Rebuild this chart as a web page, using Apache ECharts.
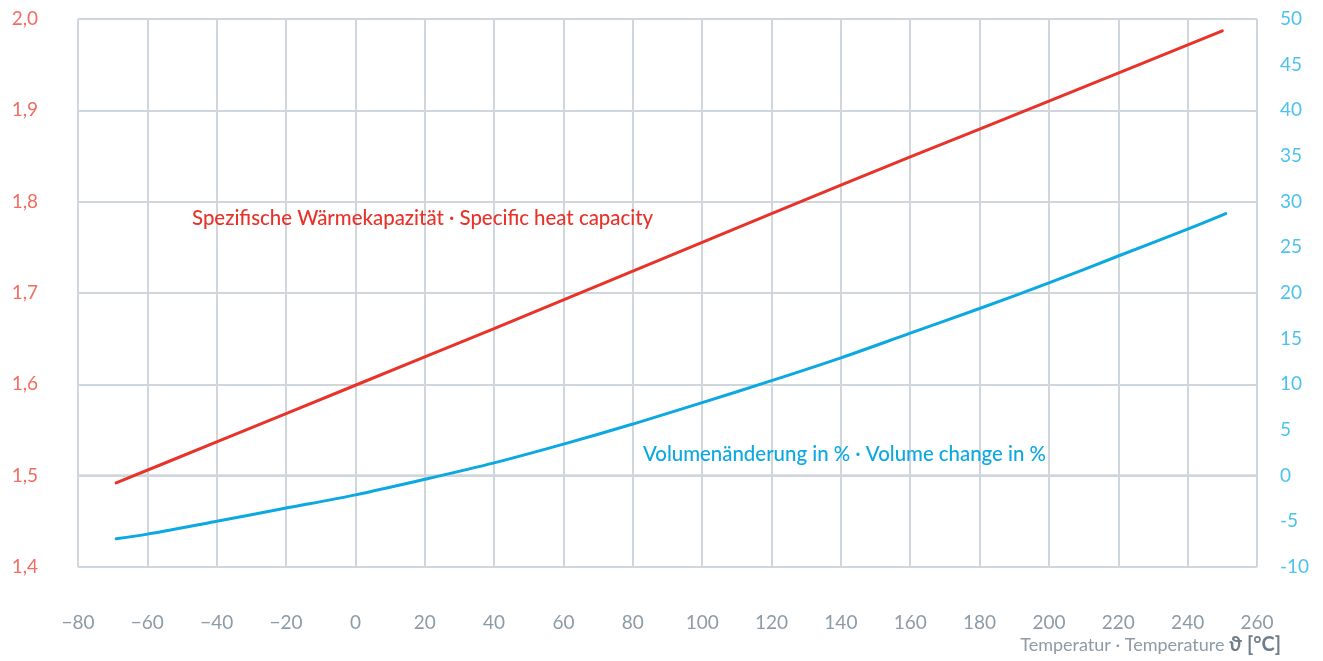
<!DOCTYPE html>
<html>
<head>
<meta charset="utf-8">
<script src="https://cdn.jsdelivr.net/npm/echarts@6/dist/echarts.min.js"></script>
<style>
  html, body { margin: 0; padding: 0; background: #ffffff; }
  #chart { width: 1323px; height: 661px; }
</style>
</head>
<body>
<div id="chart"></div>
<script>
// Temperature (°C) ticks and series
const xTicks = [-80, -60, -40, -20, 0, 20, 40, 60, 80, 100, 120, 140, 160, 180, 200, 220, 240, 260];
const heatTemps = [-69, -40, 0, 40, 80, 120, 160, 200, 250];
const heatValues = [1.492, 1.537, 1.599, 1.661, 1.724, 1.787, 1.849, 1.910, 1.987];
const volTemps = [-69, -60, -40, -20, 0, 20, 40, 60, 80, 100, 120, 140, 160, 180, 200, 220, 240, 251];
const volValues = [-6.9, -6.4, -5.0, -3.55, -2.1, -0.4, 1.4, 3.45, 5.65, 8.0, 10.4, 12.9, 15.6, 18.3, 21.1, 24.05, 27.0, 28.7];
const heatLabel = 'Spezifische Wärmekapazität · Specific heat capacity';
const volLabel = 'Volumenänderung in % · Volume change in %';
const xAxisTitle = 'Temperatur · Temperature ';
const xAxisUnit = 'ϑ [°C]';

const FONT = 'Lato';
const gridColor = '#cfd7dd';

const chart = echarts.init(document.getElementById('chart'));
chart.setOption({
  backgroundColor: '#ffffff',
  animation: false,
  grid: { left: 78, right: 66, top: 19, bottom: 94 },
  xAxis: {
    type: 'value', min: -80, max: 260, interval: 20,
    axisLine: { show: true, lineStyle: { color: gridColor, width: 2.5 } },
    axisTick: { show: false },
    splitLine: { show: true, lineStyle: { color: gridColor, width: 2 } },
    axisLabel: {
      margin: 46, fontFamily: FONT, fontSize: 19, color: '#8d9ba6',
      formatter: v => (v < 0 ? '\u2212' + Math.abs(v) : String(v))
    }
  },
  yAxis: [
    {
      type: 'value', min: 1.4, max: 2.0, interval: 0.1, position: 'left',
      axisLine: { show: false }, axisTick: { show: false },
      splitLine: { show: true, lineStyle: { color: gridColor, width: 2 } },
      axisLabel: {
        margin: 40, fontFamily: FONT, fontSize: 19, color: '#f36c62',
        formatter: v => v.toFixed(1).replace('.', ',')
      }
    },
    {
      type: 'value', min: -10, max: 50, interval: 5, position: 'right',
      axisLine: { show: false }, axisTick: { show: false },
      splitLine: { show: false },
      axisLabel: {
        margin: 23, fontFamily: FONT, fontSize: 19, color: '#4cc2ef',
        formatter: v => (v < 0 ? '-' + Math.abs(v) : String(v))
      }
    }
  ],
  series: [
    {
      type: 'line', yAxisIndex: 0, showSymbol: false, smooth: 0.2,
      data: heatTemps.map((t, i) => [t, heatValues[i]]),
      lineStyle: { color: '#e8332b', width: 3, cap: 'round' },
      itemStyle: { color: '#e8332b' }
    },
    {
      type: 'line', yAxisIndex: 1, showSymbol: false, smooth: 0.3,
      data: volTemps.map((t, i) => [t, volValues[i]]),
      lineStyle: { color: '#0ba8e2', width: 3, cap: 'round' },
      itemStyle: { color: '#0ba8e2' }
    }
  ],
  graphic: [
    {
      type: 'text', left: 192, top: 208, z: 100,
      style: { text: heatLabel, fontFamily: FONT, fontSize: 20.4, fontWeight: 500, fill: '#e8332b' }
    },
    {
      type: 'text', left: 643, top: 444, z: 100,
      style: { text: volLabel, fontFamily: FONT, fontSize: 20.4, fontWeight: 500, fill: '#0ba8e2' }
    },
    {
      type: 'text', right: 42, top: 635, z: 100,
      style: {
        text: '{a|' + xAxisTitle + '}{b|' + xAxisUnit + '}',
        rich: {
          a: { fontFamily: FONT, fontSize: 18, fill: '#8d9ba6' },
          b: { fontFamily: FONT, fontSize: 20, fontWeight: 'bold', fill: '#6f7e89' }
        }
      }
    }
  ]
});
</script>
</body>
</html>
